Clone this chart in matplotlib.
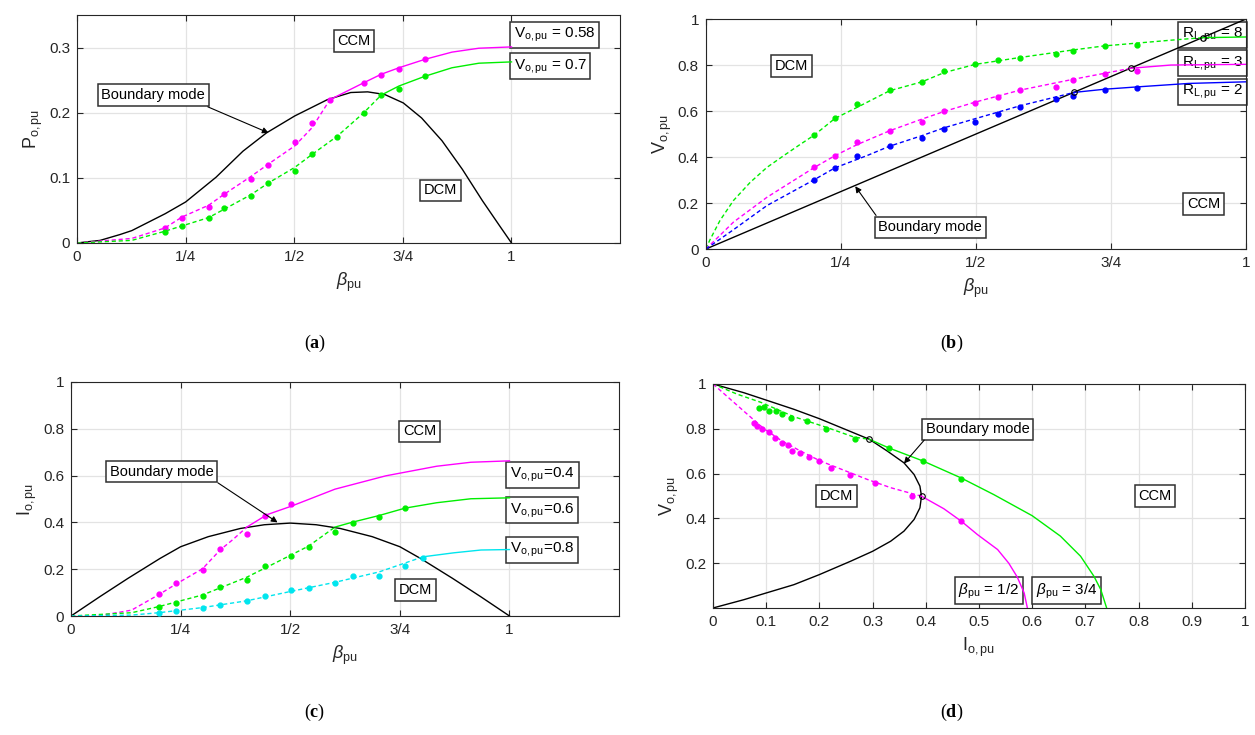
import numpy as np
import matplotlib
matplotlib.use("Agg")
import matplotlib.pyplot as plt

plt.rcParams['font.family'] = ['Liberation Sans', 'DejaVu Sans']
plt.rcParams['mathtext.fontset'] = 'custom'
plt.rcParams['mathtext.rm'] = 'Liberation Sans'
plt.rcParams['mathtext.it'] = 'Liberation Sans:italic'
plt.rcParams['mathtext.bf'] = 'Liberation Serif:bold'

MAG = '#ff00ff'
GRN = '#00ee00'
BLU = '#0000ff'
CYA = '#00e5ee'

# ---------------- (a) P_o vs beta ----------------
a_bnd_b = [0, 0.053, 0.099, 0.126, 0.203, 0.25, 0.32, 0.382, 0.436, 0.501, 0.576, 0.63, 0.669,
           0.708, 0.751, 0.793, 0.84, 0.887, 0.933, 0.972, 1.0]
a_bnd_p = [0, 0.004, 0.013, 0.019, 0.045, 0.063, 0.101, 0.141, 0.169, 0.195, 0.22, 0.231, 0.232,
           0.228, 0.215, 0.192, 0.157, 0.113, 0.065, 0.027, 0]

a_m_dash_b = [0, 0.126, 0.202, 0.242, 0.303, 0.339, 0.4, 0.44, 0.501, 0.541, 0.582]
a_m_dash_p = [0, 0.007, 0.023, 0.04, 0.058, 0.075, 0.102, 0.121, 0.149, 0.177, 0.22]
a_m_sol_b = [0.582, 0.66, 0.7, 0.741, 0.801, 0.863, 0.925, 1.0]
a_m_sol_p = [0.22, 0.246, 0.259, 0.269, 0.282, 0.293, 0.299, 0.301]
a_m_pts_b = [0.202, 0.242, 0.303, 0.339, 0.4, 0.44, 0.501, 0.541, 0.582, 0.66, 0.7, 0.741, 0.801]
a_m_pts_p = [0.023, 0.038, 0.056, 0.075, 0.098, 0.12, 0.155, 0.184, 0.22, 0.245, 0.258, 0.267, 0.282]

a_g_dash_b = [0, 0.126, 0.202, 0.303, 0.4, 0.44, 0.501, 0.541, 0.599, 0.66, 0.7]
a_g_dash_p = [0, 0.004, 0.018, 0.039, 0.074, 0.092, 0.116, 0.136, 0.164, 0.2, 0.227]
a_g_sol_b = [0.7, 0.741, 0.801, 0.863, 0.925, 1.0]
a_g_sol_p = [0.227, 0.241, 0.256, 0.269, 0.276, 0.278]
a_g_pts_b = [0.202, 0.242, 0.303, 0.339, 0.4, 0.44, 0.501, 0.541, 0.599, 0.66, 0.7, 0.741, 0.801]
a_g_pts_p = [0.017, 0.026, 0.038, 0.054, 0.072, 0.092, 0.111, 0.136, 0.163, 0.2, 0.227, 0.237, 0.256]

# ---------------- (b) V_o vs beta ----------------
b_bnd_b = [0, 1]
b_bnd_v = [0, 1]
b_cross_b = [0.682, 0.787, 0.92]
b_cross_v = [0.681, 0.786, 0.919]

b_g_dash_b = [0, 0.007, 0.026, 0.051, 0.082, 0.113, 0.144, 0.174, 0.201, 0.239, 0.28, 0.34, 0.4,
              0.441, 0.499, 0.582, 0.675, 0.737, 0.861, 0.92]
b_g_dash_v = [0, 0.038, 0.124, 0.211, 0.29, 0.355, 0.406, 0.454, 0.496, 0.568, 0.616, 0.688, 0.727,
              0.767, 0.803, 0.833, 0.864, 0.883, 0.908, 0.919]
b_g_sol_b = [0.92, 1.0]
b_g_sol_v = [0.919, 0.922]
b_g_pts_b = [0.201, 0.239, 0.28, 0.34, 0.4, 0.441, 0.499, 0.54, 0.582, 0.648, 0.68, 0.739, 0.799]
b_g_pts_v = [0.496, 0.568, 0.63, 0.691, 0.727, 0.772, 0.803, 0.822, 0.83, 0.847, 0.861, 0.883, 0.889]

b_m_dash_b = [0, 0.051, 0.113, 0.201, 0.239, 0.28, 0.34, 0.4, 0.441, 0.499, 0.582, 0.68, 0.787]
b_m_dash_v = [0, 0.117, 0.225, 0.355, 0.406, 0.454, 0.514, 0.565, 0.598, 0.639, 0.691, 0.738, 0.786]
b_m_sol_b = [0.787, 0.861, 1.0]
b_m_sol_v = [0.786, 0.8, 0.803]
b_m_pts_b = [0.201, 0.239, 0.28, 0.34, 0.4, 0.441, 0.499, 0.54, 0.582, 0.648, 0.68, 0.739, 0.799]
b_m_pts_v = [0.355, 0.405, 0.467, 0.514, 0.552, 0.601, 0.636, 0.663, 0.691, 0.706, 0.734, 0.76, 0.775]

b_b_dash_b = [0, 0.051, 0.113, 0.201, 0.239, 0.298, 0.34, 0.4, 0.441, 0.499, 0.582, 0.682]
b_b_dash_v = [0, 0.084, 0.189, 0.302, 0.353, 0.406, 0.447, 0.493, 0.527, 0.567, 0.623, 0.681]
b_b_sol_b = [0.682, 0.739, 0.799, 0.894, 1.0]
b_b_sol_v = [0.681, 0.695, 0.705, 0.72, 0.727]
b_b_pts_b = [0.201, 0.239, 0.28, 0.34, 0.4, 0.441, 0.499, 0.54, 0.582, 0.648, 0.68, 0.739, 0.799]
b_b_pts_v = [0.302, 0.353, 0.406, 0.448, 0.483, 0.522, 0.553, 0.587, 0.616, 0.652, 0.666, 0.691, 0.702]

# ---------------- (c) I_o vs beta ----------------
c_bnd_b = [0, 0.066, 0.13, 0.203, 0.25, 0.313, 0.386, 0.441, 0.5, 0.559, 0.614, 0.687, 0.75,
           0.797, 0.87, 0.934, 1.0]
c_bnd_i = [0, 0.083, 0.161, 0.246, 0.296, 0.339, 0.374, 0.39, 0.397, 0.39, 0.374, 0.339, 0.296,
           0.246, 0.161, 0.083, 0]

c_m_dash_b = [0, 0.066, 0.138, 0.2, 0.24, 0.3, 0.34, 0.37, 0.401]
c_m_dash_i = [0, 0.002, 0.025, 0.091, 0.137, 0.202, 0.282, 0.328, 0.38]
c_m_sol_b = [0.401, 0.447, 0.502, 0.602, 0.718, 0.834, 0.912, 1.0]
c_m_sol_i = [0.38, 0.433, 0.469, 0.542, 0.599, 0.64, 0.657, 0.663]
c_m_pts_b = [0.2, 0.24, 0.3, 0.34, 0.401, 0.442, 0.501]
c_m_pts_i = [0.094, 0.14, 0.195, 0.287, 0.351, 0.429, 0.479]

c_g_dash_b = [0, 0.138, 0.2, 0.3, 0.34, 0.401, 0.463, 0.501, 0.542, 0.602]
c_g_dash_i = [0, 0.014, 0.04, 0.09, 0.12, 0.166, 0.224, 0.26, 0.299, 0.38]
c_g_sol_b = [0.602, 0.642, 0.702, 0.762, 0.834, 0.912, 1.0]
c_g_sol_i = [0.38, 0.401, 0.429, 0.461, 0.484, 0.501, 0.505]
c_g_pts_b = [0.2, 0.24, 0.3, 0.34, 0.401, 0.442, 0.501, 0.542, 0.602, 0.642, 0.702, 0.762]
c_g_pts_i = [0.039, 0.055, 0.085, 0.123, 0.152, 0.214, 0.257, 0.296, 0.36, 0.399, 0.422, 0.461]

c_c_dash_b = [0, 0.138, 0.2, 0.3, 0.401, 0.501, 0.602, 0.702, 0.803]
c_c_dash_i = [0, 0.004, 0.014, 0.036, 0.065, 0.105, 0.144, 0.188, 0.253]
c_c_sol_b = [0.803, 0.873, 0.935, 1.0]
c_c_sol_i = [0.253, 0.27, 0.282, 0.284]
c_c_pts_b = [0.2, 0.24, 0.3, 0.34, 0.401, 0.442, 0.501, 0.542, 0.602, 0.642, 0.702, 0.762, 0.803]
c_c_pts_i = [0.014, 0.022, 0.033, 0.048, 0.062, 0.084, 0.111, 0.121, 0.14, 0.169, 0.169, 0.214, 0.247]

# ---------------- (d) V_o vs I_o ----------------
d_bnd_i = [0, 0.058, 0.1, 0.152, 0.2, 0.246, 0.294, 0.328, 0.359, 0.378, 0.389, 0.392, 0.389,
           0.378, 0.359, 0.334, 0.3, 0.259, 0.2, 0.152, 0.1, 0.058, 0]
d_bnd_v = [1, 0.961, 0.928, 0.887, 0.845, 0.8, 0.753, 0.7, 0.648, 0.596, 0.544, 0.499, 0.447,
           0.395, 0.343, 0.298, 0.253, 0.209, 0.149, 0.104, 0.067, 0.037, 0]
d_cross_i = [0.294, 0.392]
d_cross_v = [0.753, 0.499]

d_g_dash_i = [0, 0.046, 0.09, 0.152, 0.215, 0.265, 0.294]
d_g_dash_v = [1, 0.954, 0.918, 0.854, 0.805, 0.763, 0.753]
d_g_sol_i = [0.294, 0.33, 0.395, 0.466, 0.528, 0.6, 0.653, 0.691, 0.716, 0.729, 0.74]
d_g_sol_v = [0.753, 0.715, 0.656, 0.581, 0.506, 0.412, 0.321, 0.231, 0.142, 0.082, 0]
d_g_pts_i = [0.086, 0.096, 0.105, 0.118, 0.13, 0.146, 0.177, 0.212, 0.267, 0.33, 0.395, 0.467]
d_g_pts_v = [0.894, 0.897, 0.879, 0.879, 0.864, 0.849, 0.835, 0.797, 0.756, 0.712, 0.656, 0.578]

d_m_dash_i = [0, 0.033, 0.065, 0.096, 0.13, 0.165, 0.202, 0.246, 0.29, 0.334, 0.392]
d_m_dash_v = [1, 0.931, 0.864, 0.8, 0.745, 0.7, 0.656, 0.615, 0.574, 0.537, 0.499]
d_m_sol_i = [0.392, 0.434, 0.467, 0.497, 0.535, 0.556, 0.572, 0.585, 0.591]
d_m_sol_v = [0.499, 0.443, 0.387, 0.328, 0.261, 0.2, 0.138, 0.067, 0]
d_m_pts_i = [0.077, 0.083, 0.093, 0.105, 0.116, 0.13, 0.141, 0.149, 0.164, 0.18, 0.199, 0.221,
             0.258, 0.305, 0.375, 0.467]
d_m_pts_v = [0.827, 0.812, 0.797, 0.785, 0.76, 0.738, 0.726, 0.703, 0.69, 0.675, 0.656, 0.623,
             0.592, 0.556, 0.499, 0.387]

fr = ['0', '1/4', '1/2', '3/4', '1']
quarters = [0, 0.25, 0.5, 0.75, 1]

fig = plt.figure(figsize=(12.55, 7.35), dpi=100)
ax_a = fig.add_axes([0.0614, 0.6694, 0.4327, 0.3102])
ax_b = fig.add_axes([0.5625, 0.6612, 0.4303, 0.3129])
ax_c = fig.add_axes([0.0566, 0.1619, 0.4367, 0.3184])
ax_d = fig.add_axes([0.5681, 0.1728, 0.4239, 0.3048])


def style(ax):
    ax.set_axisbelow(True)
    ax.grid(True, color='#e3e3e3', lw=0.9)
    ax.tick_params(direction='in', top=True, right=True, length=4, width=0.8,
                   labelsize=11, colors='#262626', pad=5)
    for s in ax.spines.values():
        s.set_color('#262626')
        s.set_linewidth(0.8)


def box(ax, x, y, s, ha='center', va='center', fs=10.5):
    ax.text(x, y, s, ha=ha, va=va, fontsize=fs, color='k', zorder=1.5,
            bbox=dict(boxstyle='square,pad=0.25', fc='white', ec='#303030', lw=1.1))


def arrow(ax, tail, head):
    ax.annotate('', xy=head, xytext=tail,
                arrowprops=dict(arrowstyle='-|>', color='k', lw=0.8, mutation_scale=9,
                                shrinkA=0, shrinkB=0))


def series(ax, db, dv, sb, sv, pb, pv, c):
    ax.plot(db, dv, color=c, lw=1.0, dashes=(3, 2), zorder=2)
    ax.plot(sb, sv, color=c, lw=1.0, zorder=2)
    ax.plot(pb, pv, 'o', color=c, ms=3.5, zorder=3)


def labels(ax, xl, yl):
    ax.set_xlabel(xl, fontsize=13, color='#262626', labelpad=5)
    ax.set_ylabel(yl, fontsize=13, color='#262626', labelpad=3)


# (a)
style(ax_a)
ax_a.plot(a_bnd_b, a_bnd_p, color='k', lw=1.0, zorder=2)
series(ax_a, a_m_dash_b, a_m_dash_p, a_m_sol_b, a_m_sol_p, a_m_pts_b, a_m_pts_p, MAG)
series(ax_a, a_g_dash_b, a_g_dash_p, a_g_sol_b, a_g_sol_p, a_g_pts_b, a_g_pts_p, GRN)
ax_a.set_xlim(0, 1.25)
ax_a.set_ylim(0, 0.35)
ax_a.set_xticks(quarters)
ax_a.set_xticklabels(fr)
ax_a.set_yticks([0, 0.1, 0.2, 0.3])
ax_a.set_yticklabels(['0', '0.1', '0.2', '0.3'])
labels(ax_a, r'$\beta_{\mathrm{pu}}$', r'$\mathrm{P_{o,pu}}$')
box(ax_a, 1.005, 0.320, r'$\mathrm{V_{o,pu}}$ = 0.58', ha='left', fs=11)
box(ax_a, 1.005, 0.271, r'$\mathrm{V_{o,pu}}$ = 0.7', ha='left', fs=11)
box(ax_a, 0.638, 0.31, 'CCM')
box(ax_a, 0.836, 0.081, 'DCM')
box(ax_a, 0.175, 0.227, 'Boundary mode')
arrow(ax_a, (0.301, 0.209), (0.441, 0.169))

# (b)
style(ax_b)
ax_b.plot(b_bnd_b, b_bnd_v, color='k', lw=1.0, zorder=2)
series(ax_b, b_g_dash_b, b_g_dash_v, b_g_sol_b, b_g_sol_v, b_g_pts_b, b_g_pts_v, GRN)
series(ax_b, b_m_dash_b, b_m_dash_v, b_m_sol_b, b_m_sol_v, b_m_pts_b, b_m_pts_v, MAG)
series(ax_b, b_b_dash_b, b_b_dash_v, b_b_sol_b, b_b_sol_v, b_b_pts_b, b_b_pts_v, BLU)
ax_b.plot(b_cross_b, b_cross_v, 'o', mfc='none', mec='k', ms=4, mew=0.8, zorder=4)
ax_b.set_xlim(0, 1)
ax_b.set_ylim(0, 1)
ax_b.set_xticks(quarters)
ax_b.set_xticklabels(fr)
ax_b.set_yticks([0, 0.2, 0.4, 0.6, 0.8, 1])
ax_b.set_yticklabels(['0', '0.2', '0.4', '0.6', '0.8', '1'])
labels(ax_b, r'$\beta_{\mathrm{pu}}$', r'$\mathrm{V_{o,pu}}$')
box(ax_b, 0.881, 0.930, r'$\mathrm{R_{L,pu}}$ = 8', ha='left', fs=11)
box(ax_b, 0.881, 0.807, r'$\mathrm{R_{L,pu}}$ = 3', ha='left', fs=11)
box(ax_b, 0.881, 0.683, r'$\mathrm{R_{L,pu}}$ = 2', ha='left', fs=11)
box(ax_b, 0.158, 0.796, 'DCM')
box(ax_b, 0.9215, 0.196, 'CCM')
box(ax_b, 0.415, 0.095, 'Boundary mode')
arrow(ax_b, (0.315, 0.146), (0.2765, 0.273))

# (c)
style(ax_c)
ax_c.plot(c_bnd_b, c_bnd_i, color='k', lw=1.0, zorder=2)
series(ax_c, c_m_dash_b, c_m_dash_i, c_m_sol_b, c_m_sol_i, c_m_pts_b, c_m_pts_i, MAG)
series(ax_c, c_g_dash_b, c_g_dash_i, c_g_sol_b, c_g_sol_i, c_g_pts_b, c_g_pts_i, GRN)
series(ax_c, c_c_dash_b, c_c_dash_i, c_c_sol_b, c_c_sol_i, c_c_pts_b, c_c_pts_i, CYA)
ax_c.set_xlim(0, 1.25)
ax_c.set_ylim(0, 1)
ax_c.set_xticks(quarters)
ax_c.set_xticklabels(fr)
ax_c.set_yticks([0, 0.2, 0.4, 0.6, 0.8, 1])
ax_c.set_yticklabels(['0', '0.2', '0.4', '0.6', '0.8', '1'])
labels(ax_c, r'$\beta_{\mathrm{pu}}$', r'$\mathrm{I_{o,pu}}$')
box(ax_c, 1.001, 0.603, r'$\mathrm{V_{o,pu}}$=0.4', ha='left', fs=11)
box(ax_c, 1.001, 0.451, r'$\mathrm{V_{o,pu}}$=0.6', ha='left', fs=11)
box(ax_c, 1.001, 0.282, r'$\mathrm{V_{o,pu}}$=0.8', ha='left', fs=11)
box(ax_c, 0.795, 0.789, 'CCM')
box(ax_c, 0.785, 0.111, 'DCM')
box(ax_c, 0.207, 0.616, 'Boundary mode')
arrow(ax_c, (0.335, 0.569), (0.471, 0.4))

# (d)
style(ax_d)
ax_d.plot(d_bnd_i, d_bnd_v, color='k', lw=1.0, zorder=2)
series(ax_d, d_g_dash_i, d_g_dash_v, d_g_sol_i, d_g_sol_v, d_g_pts_i, d_g_pts_v, GRN)
series(ax_d, d_m_dash_i, d_m_dash_v, d_m_sol_i, d_m_sol_v, d_m_pts_i, d_m_pts_v, MAG)
ax_d.plot(d_cross_i, d_cross_v, 'o', mfc='none', mec='k', ms=4, mew=0.8, zorder=4)
ax_d.set_xlim(0, 1)
ax_d.set_ylim(0, 1)
ax_d.set_xticks(np.arange(0, 11) / 10)
ax_d.set_xticklabels(['0', '0.1', '0.2', '0.3', '0.4', '0.5', '0.6', '0.7', '0.8', '0.9', '1'])
ax_d.set_yticks([0.2, 0.4, 0.6, 0.8, 1])
ax_d.set_yticklabels(['0.2', '0.4', '0.6', '0.8', '1'])
labels(ax_d, r'$\mathrm{I_{o,pu}}$', r'$\mathrm{V_{o,pu}}$')
box(ax_d, 0.498, 0.797, 'Boundary mode')
box(ax_d, 0.232, 0.5, 'DCM')
box(ax_d, 0.831, 0.5, 'CCM')
box(ax_d, 0.519, 0.076, r'$\beta_{\mathrm{pu}}$ = 1/2', fs=11)
box(ax_d, 0.665, 0.076, r'$\beta_{\mathrm{pu}}$ = 3/4', fs=11)
arrow(ax_d, (0.397, 0.749), (0.359, 0.645))

# captions
for x, y, s in [(315, 343, 'a'), (952, 343, 'b'), (315, 712, 'c'), (952, 712, 'd')]:
    fig.text(x / 1255, 1 - y / 735, r'($\mathbf{' + s + '}$)', ha='center', va='center',
             fontsize=13, family='Liberation Serif')

fig.savefig('out.png', dpi=100)
